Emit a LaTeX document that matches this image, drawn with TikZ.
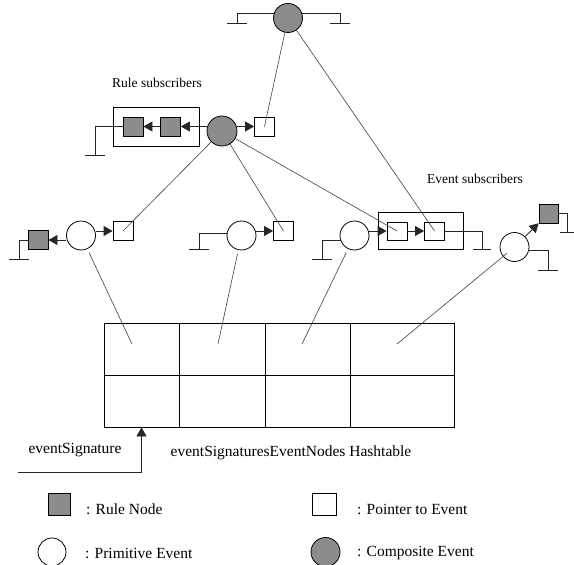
\documentclass[tikz,border=0pt]{standalone}
\usepackage{fontspec}
\setmainfont{Liberation Serif}
\usetikzlibrary{arrows.meta,calc}
\definecolor{gfill}{RGB}{140,140,140}
\begin{document}
\begin{tikzpicture}[x=1pt,y=-1pt,
 base/.style={draw=black, line width=0.8pt},
 comp/.style={base, circle, fill=gfill, minimum size=29pt, inner sep=0pt},
 prim/.style={base, circle, fill=white, minimum size=29pt, inner sep=0pt},
 rulen/.style={base, rectangle, fill=gfill, minimum width=20pt, minimum height=19pt, inner sep=0pt},
 ptr/.style={base, rectangle, fill=white, minimum width=20pt, minimum height=19pt, inner sep=0pt},
 grp/.style={base, rectangle, inner sep=0pt},
 cell/.style={base, rectangle, inner sep=0pt, minimum height=52pt},
 wire/.style={line width=0.8pt, black!85},
 link/.style={line width=0.6pt, black!75},
 arr/.style={wire, -{Triangle[length=9pt,width=10pt]}},
 lbl/.style={font=\fontsize{13.5}{15}\selectfont, inner sep=0pt},
 leg/.style={font=\fontsize{15.5}{18}\selectfont, anchor=west, inner sep=0pt},
 bar/.style={wire},
]
\useasboundingbox (0,0) rectangle (574,565);

% ---------- groups ----------
\node[grp, minimum width=86pt, minimum height=39pt] (rsub) at (156,126.5) {};
\node[grp, minimum width=85pt, minimum height=37pt] (esub) at (420.5,230.5) {};
\node[lbl] (rsubl) at (157,83) {Rule subscribers};
\node[lbl] (esubl) at (475,179) {Event subscribers};

% ---------- top level ----------
\node[comp] (c1) at (288,18) {};
\node[comp, minimum size=30pt] (c2) at (222,131) {};
\node[ptr] (p2) at (264.5,126.5) {};
\node[rulen] (s1) at (133,126.5) {};
\node[rulen] (s2) at (170.5,126.5) {};

% ---------- row 2 ----------
\node[prim] (pe1) at (81,235.5) {};
\node[rulen] (r1) at (38,240) {};
\node[ptr] (q1) at (123,231) {};
\node[prim] (pe2) at (241.5,235.5) {};
\node[ptr] (q2) at (283.5,231) {};
\node[prim] (pe3) at (354.5,235.5) {};
\node[ptr, minimum height=18pt] (q3) at (397,231) {};
\node[ptr, minimum height=18pt] (q4) at (434.5,231) {};
\node[prim] (pe4) at (514.5,247) {};
\node[rulen, minimum width=19pt] (r2) at (548.5,213.5) {};

% ---------- table ----------
\node[cell, minimum width=75pt] (t1) at (141.5,349) {};
\node[cell, minimum width=86pt] (t2) at (222,349) {};
\node[cell, minimum width=85pt] (t3) at (307.5,349) {};
\node[cell, minimum width=104pt] (t4) at (402,349) {};
\node[cell, minimum width=75pt] (b1) at (141.5,401) {};
\node[cell, minimum width=86pt] (b2) at (222,401) {};
\node[cell, minimum width=85pt] (b3) at (307.5,401) {};
\node[cell, minimum width=104pt] (b4) at (402,401) {};
\node[leg, anchor=center] (htl) at (291,453) {eventSignaturesEventNodes Hashtable};
\node[leg, anchor=center] (esl) at (75,450) {eventSignature};

% ---------- ground coordinates ----------
\coordinate (g1) at (237,23);
\coordinate (g2) at (340,23);
\coordinate (g3) at (95,155);
\coordinate (g4) at (19,259);
\coordinate (g5) at (199,249);
\coordinate (g6) at (322,259);
\coordinate (g7) at (482,249);
\coordinate (g8) at (567,232);
\coordinate (g9) at (548,270);
\coordinate (es) at (18,472);

% grounds
\draw[wire] (c1.160) -| (g1);
\draw[bar] ([xshift=-10pt]g1) -- ([xshift=10pt]g1);
\draw[wire] (c1.20) -| (g2);
\draw[bar] ([xshift=-10pt]g2) -- ([xshift=10pt]g2);
\draw[wire] (s1.west) -| (g3);
\draw[bar] ([xshift=-10pt]g3) -- ([xshift=10pt]g3);
\draw[wire] (r1.west) -| (g4);
\draw[bar] ([xshift=-10pt]g4) -- ([xshift=10pt]g4);
\draw[wire] (pe2.170) -| (g5);
\draw[bar] ([xshift=-10pt]g5) -- ([xshift=10pt]g5);
\draw[wire] (pe3.200) -| (g6);
\draw[bar] ([xshift=-10pt]g6) -- ([xshift=10pt]g6);
\draw[wire] (q4.east) -| (g7);
\draw[bar] ([xshift=-9pt]g7) -- ([xshift=9pt]g7);
\draw[wire] (r2.east) -| (g8);
\draw[bar] ([xshift=-7pt]g8) -- ([xshift=9pt]g8);
\draw[wire] (pe4.-12) -| (g9);
\draw[bar] ([xshift=-10pt]g9) -- ([xshift=10pt]g9);

% arrows
\draw[arr] (p2.west -| c2.east) -- (p2.west);
\draw[arr] (s2.east -| c2.west) -- (s2.east);
\draw[arr] (s2.west) -- (s1.east);
\draw[arr] (q1.west -| pe1.east) -- (q1.west);
\draw[arr] (r1.east -| pe1.west) -- (r1.east);
\draw[arr] (q2.west -| pe2.east) -- (q2.west);
\draw[arr] (q3.west -| pe3.east) -- (q3.west);
\draw[arr] (q3.east) -- (q4.west);
\draw[arr] (pe4) -- (r2);

% pointer links
\draw[link] (c1) -- (p2.center);
\draw[link] (c1) -- (q4.center);
\draw[link] (c2) -- (q1.center);
\draw[link] (c2) -- (q2.center);
\draw[link] (c2) -- (q3.center);

% table links
\draw[link, shorten <=4pt] (pe1) -- ([xshift=-9.5pt,yshift=5pt]t1.center);
\draw[link, shorten <=4pt] (pe2) -- ([xshift=-4pt,yshift=5pt]t2.center);
\draw[link, shorten <=4pt] (pe3) -- ([xshift=-5.5pt,yshift=5pt]t3.center);
\draw[link, shorten <=10pt] (pe4.center) -- ([xshift=-5pt,yshift=5pt]t4.center);

% eventSignature arrow
\draw[arr] (es) -| (b1.south);

% ---------- legend ----------
\node[rulen, minimum width=22pt, minimum height=22pt] (lr) at (59,504) {};
\node[leg] (lrt) at (86,509) {: Rule Node};
\node[ptr, minimum width=24pt, minimum height=22pt] (lp) at (324,504) {};
\node[leg] (lpt) at (357,509) {: Pointer to Event};
\node[prim, minimum size=28pt] (lpe) at (52,552) {};
\node[leg] (lpet) at (85,553) {: Primitive Event};
\node[comp, minimum size=29pt] (lce) at (325.5,552) {};
\node[leg] (lcet) at (357,553) {: Composite Event};
\end{tikzpicture}
\end{document}
